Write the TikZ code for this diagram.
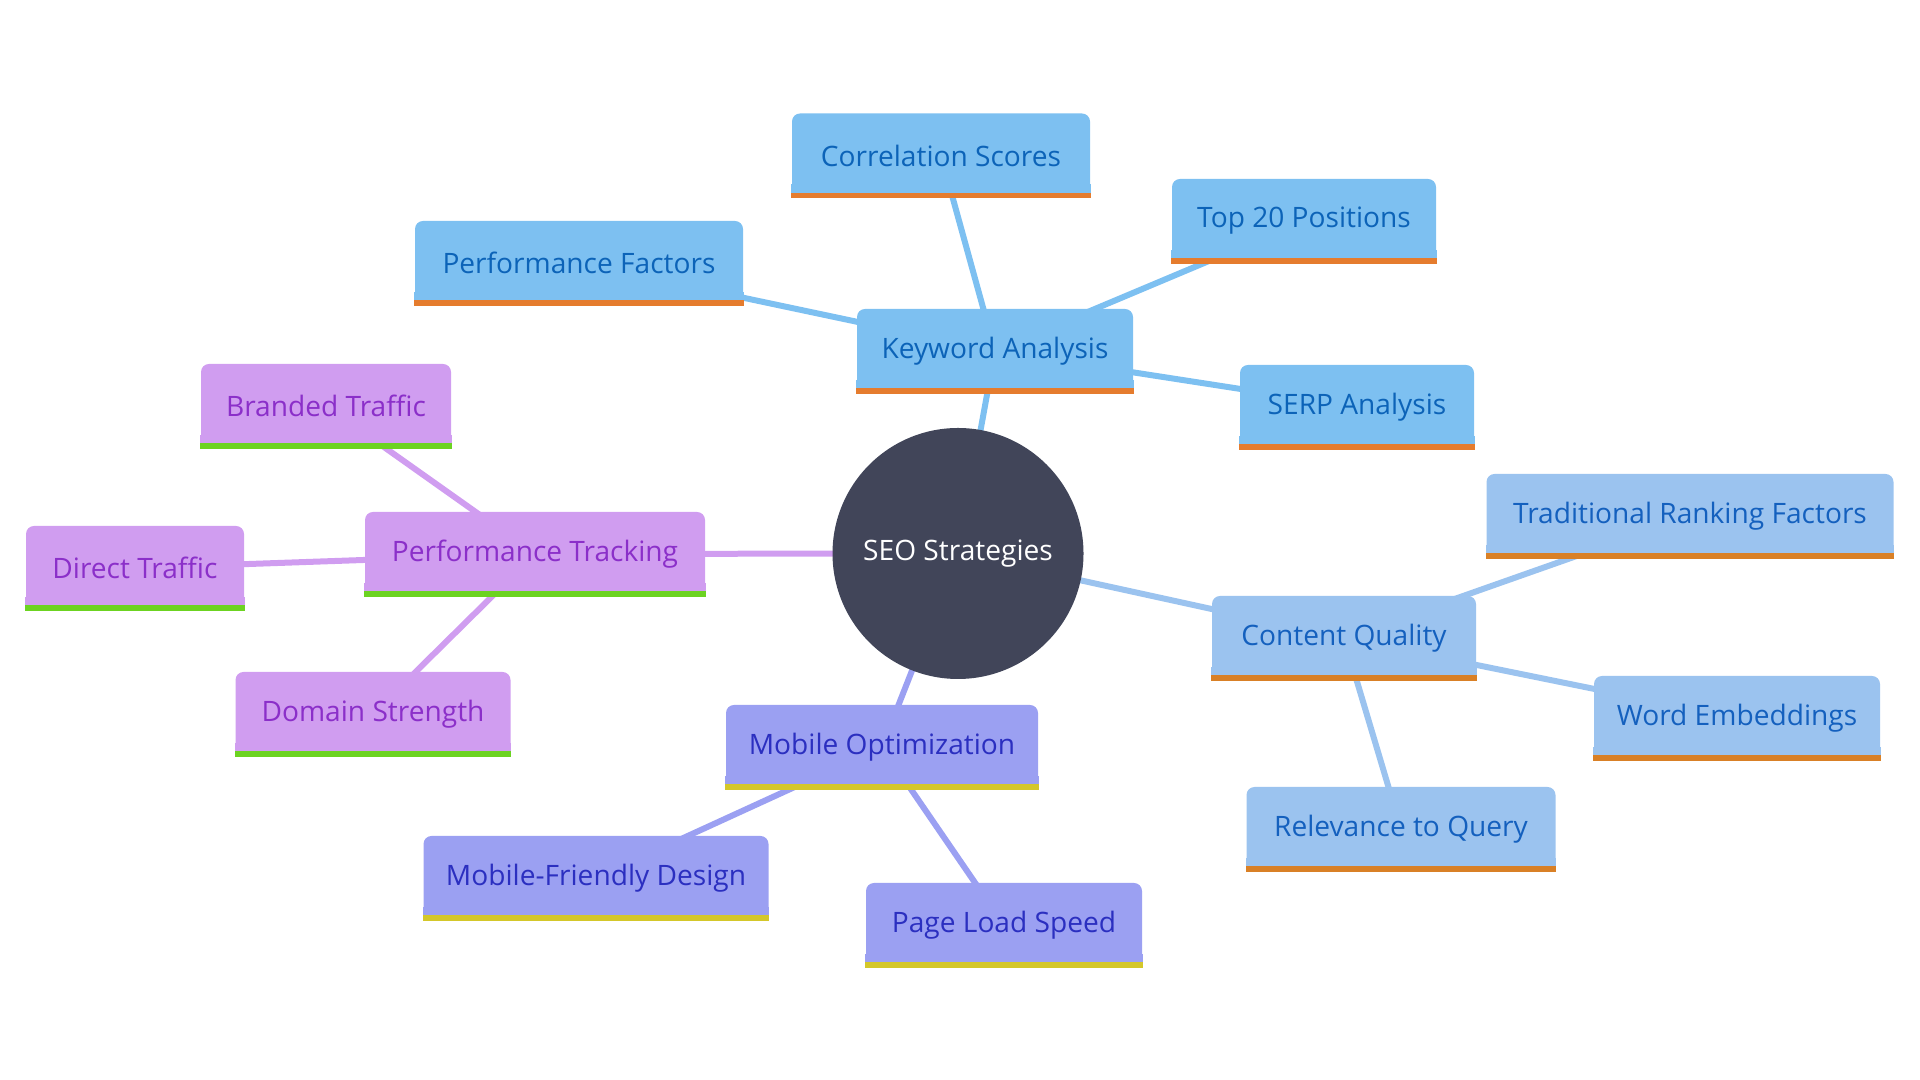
\documentclass[tikz,border=0pt]{standalone}
\usepackage{fontspec}
\setmainfont{Open Sans}
\definecolor{seodark}{RGB}{65,69,89}
\definecolor{kwfill}{RGB}{125,192,241}
\definecolor{kwtext}{RGB}{12,99,184}
\definecolor{kwbar}{RGB}{229,124,46}
\definecolor{cqfill}{RGB}{155,195,239}
\definecolor{cqtext}{RGB}{20,96,190}
\definecolor{cqbar}{RGB}{217,128,38}
\definecolor{ptfill}{RGB}{208,157,240}
\definecolor{pttext}{RGB}{139,47,201}
\definecolor{ptbar}{RGB}{108,211,33}
\definecolor{mofill}{RGB}{155,160,242}
\definecolor{motext}{RGB}{43,47,192}
\definecolor{mobar}{RGB}{212,199,42}
\usetikzlibrary{backgrounds}

\begin{document}
\begin{tikzpicture}[
  box/.style={rounded corners=0.08cm,minimum height=0.84cm,inner sep=0pt,
    font=\fontsize{8}{9.6}\selectfont},
  kw/.style={box,fill=kwfill,text=kwtext},
  cq/.style={box,fill=cqfill,text=cqtext},
  pt/.style={box,fill=ptfill,text=pttext},
  mo/.style={box,fill=mofill,text=motext},
  link/.style={line width=0.06cm}]
  \useasboundingbox (0,0) rectangle (19.2,10.8);
  % Centre
  \node[circle,fill=seodark,text=white,minimum size=2.51cm,inner sep=0pt,font=\fontsize{8}{9.6}\selectfont] (seo) at (9.58,5.265) {SEO Strategies};
  % Keyword Analysis
  \node[kw,minimum width=2.76cm] (kwa) at (9.95,7.29) {Keyword Analysis};
  \node[kw,minimum width=2.98cm] (corr) at (9.41,9.245) {Correlation Scores};
  \node[kw,minimum width=2.64cm] (top20) at (13.04,8.59) {Top 20 Positions};
  \node[kw,minimum width=3.28cm] (perff) at (5.79,8.17) {Performance Factors};
  \node[kw,minimum width=2.34cm] (serp) at (13.57,6.73) {SERP Analysis};
  % Performance Tracking
  \node[pt,minimum width=3.40cm] (perft) at (5.35,5.26) {Performance Tracking};
  \node[pt,minimum width=2.50cm] (brand) at (3.26,6.74) {Branded Traffic};
  \node[pt,minimum width=2.18cm] (direct) at (1.35,5.12) {Direct Traffic};
  \node[pt,minimum width=2.75cm] (domain) at (3.73,3.66) {Domain Strength};
  % Mobile Optimization
  \node[mo,minimum width=3.12cm] (mobile) at (8.82,3.33) {Mobile Optimization};
  \node[mo,minimum width=3.45cm] (mfd) at (5.96,2.02) {Mobile-Friendly Design};
  \node[mo,minimum width=2.76cm] (speed) at (10.04,1.55) {Page Load Speed};
  % Content Quality
  \node[cq,minimum width=2.64cm] (cqual) at (13.44,4.42) {Content Quality};
  \node[cq,minimum width=4.07cm] (trad) at (16.90,5.64) {Traditional Ranking Factors};
  \node[cq,minimum width=2.86cm] (embed) at (17.37,3.62) {Word Embeddings};
  \node[cq,minimum width=3.09cm] (relev) at (14.01,2.51) {Relevance to Query};
  % square bottoms with coloured bars
  \foreach \n/\f/\b in {kwa/kwfill/kwbar,corr/kwfill/kwbar,top20/kwfill/kwbar,perff/kwfill/kwbar,serp/kwfill/kwbar,
      perft/ptfill/ptbar,brand/ptfill/ptbar,direct/ptfill/ptbar,domain/ptfill/ptbar,
      mobile/mofill/mobar,mfd/mofill/mobar,speed/mofill/mobar,
      cqual/cqfill/cqbar,trad/cqfill/cqbar,embed/cqfill/cqbar,relev/cqfill/cqbar} {
    \fill[\f] (\n.south west) rectangle ([yshift=0.14cm]\n.south east);
    \fill[\b] (\n.south west) rectangle ([yshift=0.055cm]\n.south east);
  }
  % Links
  \begin{scope}[on background layer]
    \draw[link,kwfill] (seo.center) -- (kwa.center);
    \draw[link,kwfill] (kwa.center) -- (corr.center);
    \draw[link,kwfill] (kwa.center) -- (top20.center);
    \draw[link,kwfill] (kwa.center) -- (perff.center);
    \draw[link,kwfill] (kwa.center) -- (serp.center);
    \draw[link,ptfill] (seo.center) -- (perft.center);
    \draw[link,ptfill] (perft.center) -- (brand.center);
    \draw[link,ptfill] (perft.center) -- (direct.center);
    \draw[link,ptfill] (perft.center) -- (domain.center);
    \draw[link,mofill] (seo.center) -- (mobile.center);
    \draw[link,mofill] (mobile.center) -- (mfd.center);
    \draw[link,mofill] (mobile.center) -- (speed.center);
    \draw[link,cqfill] (seo.center) -- (cqual.center);
    \draw[link,cqfill] (cqual.center) -- (trad.center);
    \draw[link,cqfill] (cqual.center) -- (embed.center);
    \draw[link,cqfill] (cqual.center) -- (relev.center);
  \end{scope}
\end{tikzpicture}
\end{document}
